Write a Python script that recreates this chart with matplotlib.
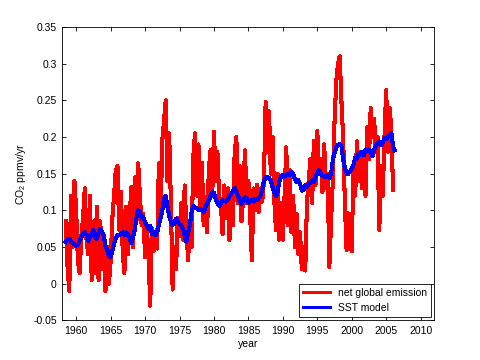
"""
Net global CO2 emission vs. SST model, recreated from a MATLAB-style figure
"""

import numpy as np
import matplotlib
matplotlib.use('Agg')
import matplotlib.pyplot as plt

plt.rcParams['font.family'] = ['Liberation Sans', 'DejaVu Sans']
plt.rcParams['mathtext.fontset'] = 'custom'
plt.rcParams['mathtext.rm'] = 'Liberation Sans'

# quarterly samples
emission_start = 1958.5
net_emission = [
    0.085, 0.022,
    -0.010, 0.120, 0.050, 0.140,   # 1959
    0.100, 0.030, 0.015, 0.065,    # 1960
    0.090, 0.130, 0.060, 0.040,    # 1961
    0.120, 0.005, 0.085, 0.015,    # 1962
    0.105, 0.005, 0.085, 0.020,    # 1963
    0.060, -0.010, 0.050, 0.000,   # 1964
    0.030, 0.090, 0.120, 0.155,    # 1965
    0.160, 0.073, 0.125, 0.045,    # 1966
    0.014, 0.105, 0.040, 0.085,    # 1967
    0.132, 0.050, 0.145, 0.085,    # 1968
    0.164, 0.120, 0.080, 0.095,    # 1969
    0.036, 0.077, 0.040, -0.030,   # 1970
    0.075, 0.045, 0.065, 0.048,    # 1971
    0.164, 0.090, 0.195, 0.223,    # 1972
    0.250, 0.140, 0.205, 0.110,    # 1973
    -0.008, 0.050, 0.020, 0.090,   # 1974
    0.065, 0.110, 0.060, 0.134,    # 1975
    0.075, 0.032, 0.085, 0.050,    # 1976
    0.173, 0.205, 0.120, 0.190,    # 1977
    0.100, 0.165, 0.080, 0.118,    # 1978
    0.070, 0.155, 0.182, 0.120,    # 1979
    0.207, 0.140, 0.180, 0.120,    # 1980
    0.110, 0.068, 0.134, 0.090,    # 1981
    0.130, 0.059, 0.120, 0.080,    # 1982
    0.177, 0.200, 0.110, 0.160,    # 1983
    0.085, 0.120, 0.182, 0.110,    # 1984
    0.140, 0.095, 0.032, 0.130,    # 1985
    0.100, 0.135, 0.098, 0.130,    # 1986
    0.112, 0.140, 0.248, 0.180,    # 1987
    0.235, 0.150, 0.200, 0.115,    # 1988
    0.073, 0.150, 0.060, 0.110,    # 1989
    0.060, 0.120, 0.186, 0.080,    # 1990
    0.155, 0.070, 0.120, 0.050,    # 1991
    0.095, 0.040, 0.070, 0.020,    # 1992
    0.050, 0.018, 0.110, 0.140,    # 1993
    0.170, 0.110, 0.195, 0.135,    # 1994
    0.208, 0.150, 0.170, 0.125,    # 1995
    0.190, 0.130, 0.150, 0.023,    # 1996
    0.085, 0.140, 0.220, 0.275,    # 1997
    0.300, 0.310, 0.250, 0.200,    # 1998
    0.110, 0.046, 0.096, 0.060,    # 1999
    0.044, 0.160, 0.120, 0.194,    # 2000
    0.140, 0.180, 0.130, 0.170,    # 2001
    0.120, 0.214, 0.170, 0.240,    # 2002
    0.200, 0.225, 0.180, 0.200,    # 2003
    0.073, 0.160, 0.120, 0.200,    # 2004
    0.264, 0.180, 0.240, 0.210,    # 2005
    0.128,
]

model_start = 1958.5
sst_model = [
    0.057, 0.060,
    0.061, 0.057, 0.055, 0.054,    # 1959
    0.052, 0.053, 0.058, 0.063,    # 1960
    0.068, 0.070, 0.066, 0.058,    # 1961
    0.064, 0.068, 0.073, 0.064,    # 1962
    0.061, 0.070, 0.075, 0.070,    # 1963
    0.066, 0.052, 0.046, 0.038,    # 1964
    0.036, 0.045, 0.055, 0.062,    # 1965
    0.066, 0.066, 0.068, 0.070,    # 1966
    0.066, 0.070, 0.067, 0.063,    # 1967
    0.055, 0.064, 0.073, 0.090,    # 1968
    0.100, 0.098, 0.090, 0.091,    # 1969
    0.084, 0.079, 0.075, 0.079,    # 1970
    0.068, 0.070, 0.066, 0.070,    # 1971
    0.080, 0.090, 0.100, 0.115,    # 1972
    0.120, 0.105, 0.093, 0.084,    # 1973
    0.080, 0.082, 0.089, 0.085,    # 1974
    0.081, 0.080, 0.075, 0.065,    # 1975
    0.057, 0.070, 0.080, 0.098,    # 1976
    0.106, 0.103, 0.103, 0.100,    # 1977
    0.102, 0.100, 0.097, 0.104,    # 1978
    0.109, 0.113, 0.120, 0.125,    # 1979
    0.124, 0.115, 0.110, 0.106,    # 1980
    0.109, 0.114, 0.113, 0.112,    # 1981
    0.115, 0.120, 0.122, 0.127,    # 1982
    0.130, 0.125, 0.120, 0.113,    # 1983
    0.109, 0.114, 0.118, 0.116,    # 1984
    0.110, 0.112, 0.114, 0.112,    # 1985
    0.116, 0.114, 0.117, 0.120,    # 1986
    0.127, 0.140, 0.145, 0.146,    # 1987
    0.144, 0.141, 0.132, 0.124,    # 1988
    0.119, 0.126, 0.140, 0.146,    # 1989
    0.148, 0.146, 0.148, 0.150,    # 1990
    0.148, 0.152, 0.150, 0.142,    # 1991
    0.139, 0.141, 0.136, 0.127,    # 1992
    0.128, 0.134, 0.132, 0.137,    # 1993
    0.137, 0.141, 0.139, 0.145,    # 1994
    0.150, 0.155, 0.150, 0.147,    # 1995
    0.146, 0.145, 0.148, 0.144,    # 1996
    0.150, 0.168, 0.178, 0.186,    # 1997
    0.189, 0.190, 0.188, 0.170,    # 1998
    0.158, 0.150, 0.150, 0.153,    # 1999
    0.157, 0.162, 0.172, 0.170,    # 2000
    0.178, 0.176, 0.180, 0.175,    # 2001
    0.183, 0.181, 0.183, 0.180,    # 2002
    0.174, 0.182, 0.188, 0.192,    # 2003
    0.194, 0.189, 0.192, 0.199,    # 2004
    0.197, 0.201, 0.203, 0.206,    # 2005
    0.187, 0.182,
]

x_ticks = [1960, 1965, 1970, 1975, 1980, 1985, 1990, 1995, 2000, 2005, 2010]
y_ticks = [-0.05, 0, 0.05, 0.1, 0.15, 0.2, 0.25, 0.3, 0.35]
y_tick_labels = ['-0.05', '0', '0.05', '0.1', '0.15', '0.2', '0.25', '0.3', '0.35']


def main():
    emission_years = emission_start + 0.25 * np.arange(len(net_emission))
    model_years = model_start + 0.25 * np.arange(len(sst_model))

    fig = plt.figure(figsize=(4.8, 3.6), dpi=100)
    ax = fig.add_axes([0.13, 0.11, 0.775, 0.815])

    # MATLAB draws these without smoothing, so switch antialiasing off
    ax.plot(emission_years, net_emission, color='red', lw=2.2,
            antialiased=False, label='net global emission')
    ax.plot(model_years, sst_model, color='blue', lw=2.2,
            antialiased=False, label='SST model')

    ax.set_xlim(1958, 2012)
    ax.set_ylim(-0.05, 0.35)
    ax.set_xticks(x_ticks)
    ax.set_yticks(y_ticks)
    ax.set_yticklabels(y_tick_labels)
    ax.tick_params(direction='in', length=3, width=0.6, labelsize=7.5,
                   top=True, right=True, pad=4)
    for spine in ax.spines.values():
        spine.set_linewidth(0.6)

    ax.set_xlabel('year', fontsize=7.5, labelpad=2)
    ax.set_ylabel('CO$_2$ ppmv/yr', fontsize=7.5, labelpad=4)

    leg = ax.legend(loc='lower right', fontsize=7.5, fancybox=False,
                    borderaxespad=0.3, handlelength=2.6,
                    framealpha=1, edgecolor='black')
    leg.get_frame().set_linewidth(0.6)

    fig.savefig('out.png', dpi=100)


if __name__ == '__main__':
    main()
